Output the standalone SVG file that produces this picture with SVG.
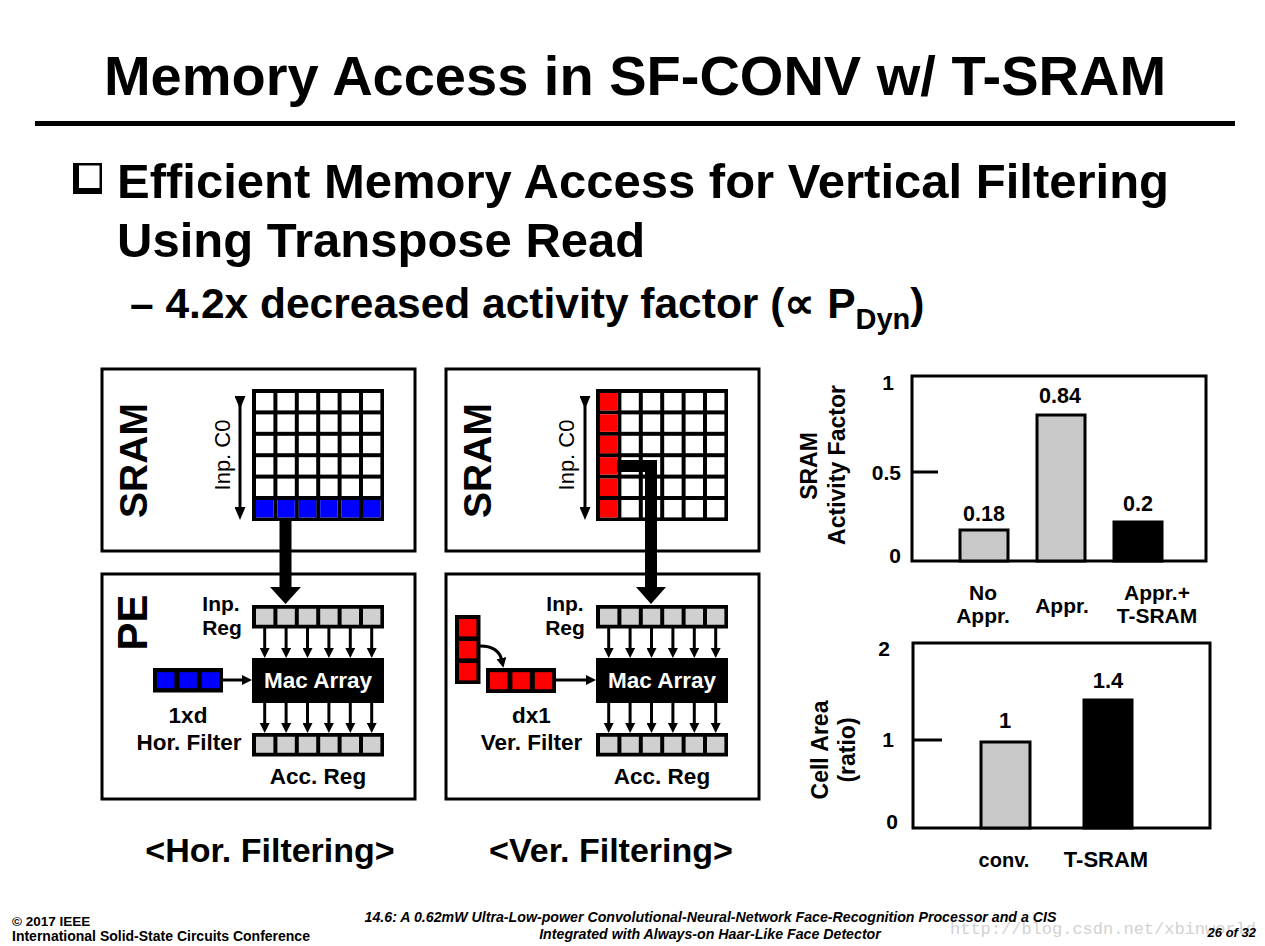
<svg xmlns="http://www.w3.org/2000/svg" xmlns:xlink="http://www.w3.org/1999/xlink" width="1265" height="946" viewBox="0 0 1265 946">
<style>
  text { font-family: "Liberation Sans", Arial, sans-serif; font-weight: bold; fill: #000; }
  .mid { text-anchor: middle; }
  .end { text-anchor: end; }
  .box { fill: #fff; stroke: #000; stroke-width: 3; }
  .thin { stroke: #000; stroke-width: 3; fill: none; }
  .thick { stroke: #000; stroke-width: 12; fill: none; stroke-linejoin: miter; }
  .gbar { fill: #c8c8c8; stroke: #000; stroke-width: 3; }
  .kbar { fill: #000; stroke: #000; stroke-width: 3; }
  .foot { font-size: 14.2px; }
  .ital { font-style: italic; }
</style>
<defs>
  <rect id="cell" width="17.4" height="17.4"/>
  <rect id="rcell" width="17.4" height="16"/>
  <g id="row6">
    <use href="#cell" x="4"/><use href="#cell" x="25.4"/><use href="#cell" x="46.8"/>
    <use href="#cell" x="68.2"/><use href="#cell" x="89.6"/><use href="#cell" x="111"/>
  </g>
  <g id="rrow6">
    <use href="#rcell" x="4"/><use href="#rcell" x="25.4"/><use href="#rcell" x="46.8"/>
    <use href="#rcell" x="68.2"/><use href="#rcell" x="89.6"/><use href="#rcell" x="111"/>
  </g>
  <g id="grid">
    <rect width="132" height="132" fill="#000"/>
    <use href="#row6" y="4" fill="#fff"/><use href="#row6" y="25.4" fill="#fff"/>
    <use href="#row6" y="46.8" fill="#fff"/><use href="#row6" y="68.2" fill="#fff"/>
    <use href="#row6" y="89.6" fill="#fff"/><use href="#row6" y="111" fill="#fff"/>
  </g>
  <g id="reg">
    <rect width="132" height="23.5" fill="#000"/>
    <use href="#rrow6" y="3.75" fill="#d0d0d0"/>
  </g>
  <marker id="ah" markerUnits="userSpaceOnUse" markerWidth="10" markerHeight="10" viewBox="0 0 10 10" refX="3" refY="5" orient="auto">
    <path d="M0,0 L10,5 L0,10 z" fill="#000"/>
  </marker>
  <marker id="ah2" markerUnits="userSpaceOnUse" markerWidth="13" markerHeight="11" viewBox="0 0 13 11" refX="4" refY="5.5" orient="auto">
    <path d="M0,0 L13,5.5 L0,11 z" fill="#000"/>
  </marker>
</defs>

<rect width="1265" height="946" fill="#fff"/>

<!-- Title -->
<g id="title">
  <text x="635" y="95" class="mid" font-size="56">Memory Access in SF-CONV w/ T-SRAM</text>
  <rect x="35" y="121" width="1200" height="5" fill="#000"/>
</g>

<!-- Bullets -->
<g id="bullets">
  <rect x="73" y="163" width="29" height="31" fill="#000"/>
  <rect x="79" y="165.5" width="20.5" height="22.5" fill="#fff"/>
  <text x="117" y="198" font-size="49">Efficient Memory Access for Vertical Filtering</text>
  <text x="117" y="257" font-size="49">Using Transpose Read</text>
  <text x="130" y="318" font-size="42.5">– 4.2x decreased activity factor (∝ P<tspan font-size="29" dy="11">Dyn</tspan><tspan dy="-11">)</tspan></text>
</g>

<!-- Left SRAM -->
<g id="sram-left">
  <rect class="box" x="102" y="369" width="313" height="182"/>
  <text transform="translate(147,460.5) rotate(-90)" class="mid" font-size="39">SRAM</text>
  <text transform="translate(230,455) rotate(-90)" class="mid" font-size="22" style="font-weight:normal">Inp. C0</text>
  <use href="#grid" x="252" y="389"/>
  <use href="#row6" x="252" y="500" fill="#0000ff"/>
</g>

<!-- Left PE -->
<g id="pe-left">
  <rect class="box" x="102" y="574" width="313" height="225"/>
  <text transform="translate(147,622.5) rotate(-90)" class="mid" font-size="42">PE</text>
  <text x="221" y="611" class="mid" font-size="21">Inp.</text>
  <text x="222" y="635" class="mid" font-size="21">Reg</text>
  <use href="#reg" x="252" y="605"/>
  <rect x="252" y="658" width="132" height="45" fill="#000"/>
  <text x="318" y="688" class="mid" font-size="22.5" style="fill:#fff">Mac Array</text>
  <use href="#reg" x="252" y="733"/>
  <text x="318" y="784" class="mid" font-size="22.5">Acc. Reg</text>
  <rect x="153" y="668" width="70" height="24.5" fill="#000"/>
  <rect x="157" y="672.2" width="17.4" height="16" fill="#0000ff"/>
  <rect x="179.4" y="672.2" width="17.4" height="16" fill="#0000ff"/>
  <rect x="201.8" y="672.2" width="17.4" height="16" fill="#0000ff"/>
  <text x="188" y="723" class="mid" font-size="22.5">1xd</text>
  <text x="189" y="750" class="mid" font-size="22.5">Hor. Filter</text>
</g>

<!-- Right SRAM -->
<g id="sram-right">
  <rect class="box" x="446" y="369" width="313" height="182"/>
  <text transform="translate(491,460.5) rotate(-90)" class="mid" font-size="39">SRAM</text>
  <text transform="translate(574,455) rotate(-90)" class="mid" font-size="22" style="font-weight:normal">Inp. C0</text>
  <use href="#grid" x="596" y="389"/>
  <use href="#cell" x="600" y="393" fill="#ff0000"/>
  <use href="#cell" x="600" y="414.4" fill="#ff0000"/>
  <use href="#cell" x="600" y="435.8" fill="#ff0000"/>
  <use href="#cell" x="600" y="457.2" fill="#ff0000"/>
  <use href="#cell" x="600" y="478.6" fill="#ff0000"/>
  <use href="#cell" x="600" y="500" fill="#ff0000"/>
</g>

<!-- Right PE -->
<g id="pe-right">
  <rect class="box" x="446" y="574" width="313" height="225"/>
  <text x="565" y="611" class="mid" font-size="21">Inp.</text>
  <text x="565" y="635" class="mid" font-size="21">Reg</text>
  <use href="#reg" x="596" y="605"/>
  <rect x="596" y="658" width="132" height="45" fill="#000"/>
  <text x="662" y="688" class="mid" font-size="22.5" style="fill:#fff">Mac Array</text>
  <use href="#reg" x="596" y="733"/>
  <text x="662" y="784" class="mid" font-size="22.5">Acc. Reg</text>
  <rect x="455" y="615" width="25.5" height="69" fill="#000"/>
  <rect x="459" y="619" width="17.4" height="17.4" fill="#ff0000"/>
  <rect x="459" y="641" width="17.4" height="17.4" fill="#ff0000"/>
  <rect x="459" y="663" width="17.4" height="17.4" fill="#ff0000"/>
  <rect x="486" y="668" width="70" height="25" fill="#000"/>
  <rect x="490" y="672.2" width="17.4" height="17" fill="#ff0000"/>
  <rect x="512.4" y="672.2" width="17.4" height="17" fill="#ff0000"/>
  <rect x="534.8" y="672.2" width="17.4" height="17" fill="#ff0000"/>
  <text x="531.5" y="723" class="mid" font-size="22.5">dx1</text>
  <text x="531.5" y="750" class="mid" font-size="22.5">Ver. Filter</text>
</g>

<!-- Captions -->
<g id="captions">
  <text x="270" y="862" class="mid" font-size="34">&lt;Hor. Filtering&gt;</text>
  <text x="611" y="862" class="mid" font-size="34">&lt;Ver. Filtering&gt;</text>
</g>

<!-- Connectors -->
<g id="connectors">
  <line class="thin" x1="240" y1="400" x2="240" y2="511" marker-start="url(#ah2)" marker-end="url(#ah2)"/>
  <line class="thin" x1="585" y1="400" x2="585" y2="511" marker-start="url(#ah2)" marker-end="url(#ah2)"/>
  <path class="thick" d="M285.5,521 V588"/>
  <polygon points="270,587 301,587 285.5,604" fill="#000"/>
  <path class="thick" d="M617,466 H651 V588"/>
  <polygon points="636,587 666,587 651,604" fill="#000"/>
  <g marker-end="url(#ah)">
    <line class="thin" x1="264.7" y1="628" x2="264.7" y2="651"/>
    <line class="thin" x1="286.1" y1="628" x2="286.1" y2="651"/>
    <line class="thin" x1="307.5" y1="628" x2="307.5" y2="651"/>
    <line class="thin" x1="328.9" y1="628" x2="328.9" y2="651"/>
    <line class="thin" x1="350.3" y1="628" x2="350.3" y2="651"/>
    <line class="thin" x1="371.7" y1="628" x2="371.7" y2="651"/>
    <line class="thin" x1="264.7" y1="703" x2="264.7" y2="726"/>
    <line class="thin" x1="286.1" y1="703" x2="286.1" y2="726"/>
    <line class="thin" x1="307.5" y1="703" x2="307.5" y2="726"/>
    <line class="thin" x1="328.9" y1="703" x2="328.9" y2="726"/>
    <line class="thin" x1="350.3" y1="703" x2="350.3" y2="726"/>
    <line class="thin" x1="371.7" y1="703" x2="371.7" y2="726"/>
    <line class="thin" x1="608.7" y1="628" x2="608.7" y2="651"/>
    <line class="thin" x1="630.1" y1="628" x2="630.1" y2="651"/>
    <line class="thin" x1="651.5" y1="628" x2="651.5" y2="651"/>
    <line class="thin" x1="672.9" y1="628" x2="672.9" y2="651"/>
    <line class="thin" x1="694.3" y1="628" x2="694.3" y2="651"/>
    <line class="thin" x1="715.7" y1="628" x2="715.7" y2="651"/>
    <line class="thin" x1="608.7" y1="703" x2="608.7" y2="726"/>
    <line class="thin" x1="630.1" y1="703" x2="630.1" y2="726"/>
    <line class="thin" x1="651.5" y1="703" x2="651.5" y2="726"/>
    <line class="thin" x1="672.9" y1="703" x2="672.9" y2="726"/>
    <line class="thin" x1="694.3" y1="703" x2="694.3" y2="726"/>
    <line class="thin" x1="715.7" y1="703" x2="715.7" y2="726"/>
    <line class="thin" x1="223" y1="680" x2="245" y2="680"/>
    <line class="thin" x1="556" y1="680" x2="589" y2="680"/>
    <path class="thin" d="M480,646 Q499,646 502,661"/>
  </g>
</g>

<!-- Chart 1 -->
<g id="chart-activity">
  <rect x="912" y="376" width="294" height="185" fill="none" stroke="#000" stroke-width="3"/>
  <line x1="912" y1="472" x2="938" y2="472" stroke="#000" stroke-width="3"/>
  <text x="894" y="390" class="end" font-size="21">1</text>
  <text x="901" y="480" class="end" font-size="21">0.5</text>
  <text x="901" y="563" class="end" font-size="21">0</text>
  <rect class="gbar" x="960" y="530" width="48" height="31"/>
  <rect class="gbar" x="1037" y="415" width="48" height="146"/>
  <rect class="kbar" x="1114" y="522" width="48" height="39"/>
  <text x="984" y="521" class="mid" font-size="21.5">0.18</text>
  <text x="1060" y="403" class="mid" font-size="21.5">0.84</text>
  <text x="1138" y="511" class="mid" font-size="21.5">0.2</text>
  <text x="983" y="600" class="mid" font-size="21">No</text>
  <text x="983" y="623" class="mid" font-size="21">Appr.</text>
  <text x="1062" y="613" class="mid" font-size="21">Appr.</text>
  <text x="1157" y="600" class="mid" font-size="21">Appr.+</text>
  <text x="1157" y="623" class="mid" font-size="21">T-SRAM</text>
  <text transform="translate(817,466) rotate(-90)" class="mid" font-size="23">SRAM</text>
  <text transform="translate(845,465) rotate(-90)" class="mid" font-size="23">Activity Factor</text>
</g>

<!-- Chart 2 -->
<g id="chart-area">
  <rect x="913" y="643" width="297" height="185" fill="none" stroke="#000" stroke-width="3"/>
  <line x1="913" y1="740" x2="942" y2="740" stroke="#000" stroke-width="3"/>
  <text x="890" y="656" class="end" font-size="21">2</text>
  <text x="894" y="747" class="end" font-size="21">1</text>
  <text x="898" y="829" class="end" font-size="21">0</text>
  <rect class="gbar" x="981" y="742" width="49" height="86"/>
  <rect class="kbar" x="1084" y="700" width="48" height="128"/>
  <text x="1005" y="728" class="mid" font-size="22">1</text>
  <text x="1108" y="688" class="mid" font-size="22">1.4</text>
  <text x="1004" y="867" class="mid" font-size="20">conv.</text>
  <text x="1106" y="867" class="mid" font-size="22">T-SRAM</text>
  <text transform="translate(828,750) rotate(-90)" class="mid" font-size="23">Cell Area</text>
  <text transform="translate(855,750) rotate(-90)" class="mid" font-size="23">(ratio)</text>
</g>

<!-- Footer -->
<g id="footer">
  <text x="950" y="934" font-size="17" style="font-family:'Liberation Mono','Courier New',monospace;font-weight:normal;fill:#d2d2d2">http://blog.csdn.net/xbinworld</text>
  <text x="12" y="926" style="font-size:13.5px">© 2017 IEEE</text>
  <text x="12" y="941" style="font-size:14px">International Solid-State Circuits Conference</text>
  <text x="710.5" y="922" class="mid foot ital">14.6: A 0.62mW Ultra-Low-power Convolutional-Neural-Network Face-Recognition Processor and a CIS</text>
  <text x="710" y="939" class="mid foot ital">Integrated with Always-on Haar-Like Face Detector</text>
  <text x="1256" y="937" class="end ital" style="font-size:13px">26 of 32</text>
</g>
</svg>
